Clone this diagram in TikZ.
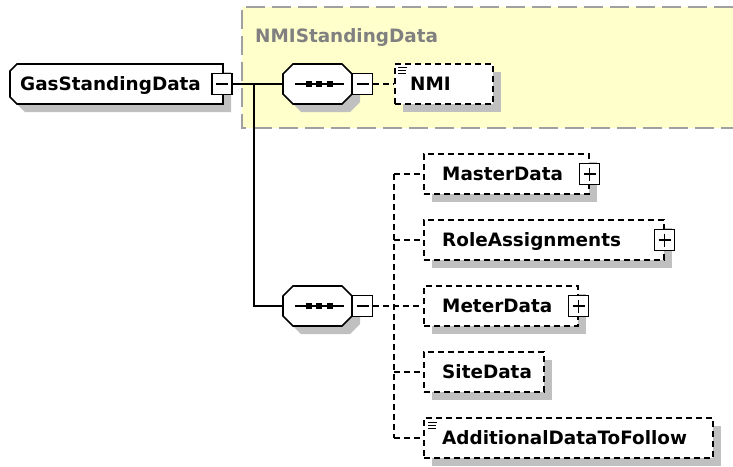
\documentclass[tikz,border=0pt]{standalone}
\usepackage{fontspec}
\setmainfont{DejaVu Sans}
\usetikzlibrary{shadows,calc}
\definecolor{bgyellow}{RGB}{255,255,204}
\definecolor{grpborder}{RGB}{160,160,160}
\definecolor{shgray}{RGB}{192,192,192}
\definecolor{grplabel}{RGB}{128,128,128}
\tikzset{
  lw/.style={line width=1.6pt},
  shadowed/.style={drop shadow={shadow xshift=8pt, shadow yshift=-8pt, fill=shgray, opacity=1}},
  elembox/.style={draw, lw, dash pattern=on 6pt off 4pt, fill=white, inner sep=0pt, minimum height=40pt, anchor=west, shadowed},
  hidden/.style={inner sep=0pt, minimum height=40pt},
  grpbox/.style={fill=bgyellow, inner sep=0pt, anchor=north west},
  btn/.style={draw, lw, fill=white, inner sep=0pt, minimum width=20pt, minimum height=21pt},
  minusbtn/.style={btn, path picture={\draw[line width=1.3pt] ([xshift=4pt]path picture bounding box.west) -- ([xshift=-4pt]path picture bounding box.east);}},
  plusbtn/.style={btn, path picture={\draw[line width=1.3pt] ([xshift=4pt]path picture bounding box.west) -- ([xshift=-4pt]path picture bounding box.east) ([yshift=-4pt]path picture bounding box.north) -- ([yshift=4pt]path picture bounding box.south);}},
  etext/.style={font=\bfseries\fontsize{18.4}{20}\selectfont, inner sep=0pt, anchor=base west},
  conn/.style={lw},
  optconn/.style={lw, dash pattern=on 6pt off 4pt},
  icon/.style={line width=1pt},
  pics/octa/.style={code={
    \fill[shgray] (-16.5,-12) -- (32.5,-12) -- (42.5,-2) -- (42.5,18) -- (32.5,28) -- (-16.5,28) -- (-26.5,18) -- (-26.5,-2) -- cycle;
    \draw[lw, fill=white] (-24.5,-20) -- (24.5,-20) -- (34.5,-10) -- (34.5,10) -- (24.5,20) -- (-24.5,20) -- (-34.5,10) -- (-34.5,-10) -- cycle;
    \draw[line width=1.3pt] (-23,0) -- (26,0);
    \fill (-12,-3) rectangle (-6,3);
    \fill (-1.5,-3) rectangle (4.5,3);
    \fill (9,-3) rectangle (15,3);
  }},
}
\begin{document}
\begin{tikzpicture}[x=1pt,y=-1pt]
\useasboundingbox (0,0) rectangle (733,466);
% group background
\node[grpbox, minimum width=491pt, minimum height=121pt] (grp) at (242,7) {};
\draw[grpborder, line width=2pt, dash pattern=on 19pt off 7pt] (grp.north east) -- (grp.north west) -- (grp.south west) -- (grp.south east);
\node[etext, text=grplabel] (grplbl) at (255,42.7) {NMIStandingData};

% root element
\fill[shgray] (25,72) -- (231,72) -- (231,112) -- (25,112) -- (18,105) -- (18,79) -- cycle;
\draw[lw, fill=white] (17,64) -- (223,64) -- (223,104) -- (17,104) -- (10,97) -- (10,71) -- cycle;
\node[hidden, minimum width=213pt] (gsd) at (116.5,84) {};
\node[etext] (gsdt) at (20,90.7) {GasStandingData};
\node[minusbtn] (gsdbtn) at (222,84) {};

% sequences
\node[hidden, minimum width=69pt] (seq1) at (317.5,84) {};
\node[hidden, minimum width=69pt] (seq2) at (317.5,306) {};
\coordinate (split) at (254,84);
\coordinate (bus) at (394,306);

% connectors
\draw[conn] (gsdbtn.east) -- (seq1.west);
\draw[conn] (split) |- (seq2.west);

\pic at (317.5,84) {octa};
\pic at (317.5,306) {octa};
\node[minusbtn] (seq1btn) at (362.5,84) {};
\node[minusbtn] (seq2btn) at (362.5,306) {};

% elements
\node[elembox, minimum width=98pt] (nmi) at (394,84) {};
\node[elembox, minimum width=165pt] (master) at (423,174) {};
\node[elembox, minimum width=240pt] (role) at (423,240) {};
\node[elembox, minimum width=154pt] (meter) at (423,306) {};
\node[elembox, minimum width=120pt] (site) at (423,372) {};
\node[elembox, minimum width=289pt] (add) at (423,438) {};

\draw[optconn] (seq1btn.east) -- (nmi.west);
\draw[optconn] (seq2btn.east) -- (meter.west);
\draw[optconn] (bus |- master.west) -- (bus |- add.west);
\foreach \n in {master, role, site, add} {
  \draw[optconn] (bus |- \n.west) -- (\n.west);
}

\node[etext] (nmit) at (410,90.7) {NMI};
\node[etext] (mastert) at (442,180.7) {MasterData};
\node[etext] (rolet) at (442,246.7) {RoleAssignments};
\node[etext] (metert) at (442,312.7) {MeterData};
\node[etext] (sitet) at (442,378.7) {SiteData};
\node[etext] (addt) at (442,444.7) {AdditionalDataToFollow};

\node[plusbtn] (masterbtn) at (master.east) {};
\node[plusbtn] (rolebtn) at (role.east) {};
\node[plusbtn] (meterbtn) at (meter.east) {};

% text-only icons
\draw[icon] (398,67.5) -- (407,67.5) (398,70.5) -- (406,70.5) (398,73.5) -- (406,73.5);
\draw[icon] (428,422) -- (437,422) (428,425) -- (436,425) (428,428) -- (436,428);
\end{tikzpicture}
\end{document}
